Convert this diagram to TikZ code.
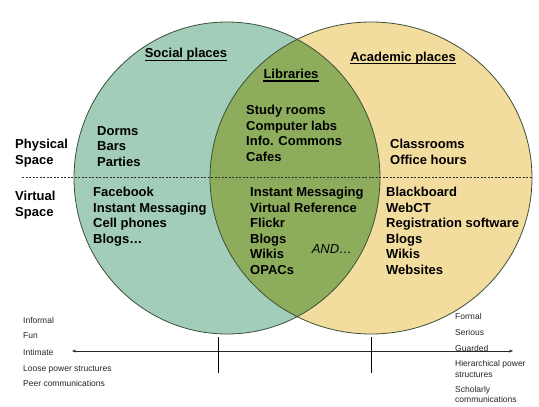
\documentclass[tikz,border=0pt]{standalone}
\usepackage{fontspec}
\setmainfont{Liberation Sans}
\usetikzlibrary{arrows.meta}
\definecolor{social}{HTML}{A1CDB9}
\definecolor{academic}{HTML}{F3DD9E}
\definecolor{library}{HTML}{8DAD5D}
\definecolor{edgecol}{HTML}{3C4F3A}
\begin{document}
\begin{tikzpicture}[x=1pt,y=-1pt,
  big/.style={font=\bfseries\fontsize{13}{15.5}\selectfont, inner sep=0pt, anchor=north west, align=left},
  head/.style={font=\bfseries\fontsize{13}{15.5}\selectfont, inner sep=0pt, anchor=base},
  uline/.style={line width=1.2pt, black},
  small/.style={font=\fontsize{8.5}{10.5}\selectfont, inner sep=0pt, anchor=base west, text=black!85},
  circ/.style={draw=edgecol, line width=0.8pt}]
\useasboundingbox (0,0) rectangle (539,407);
\fill[white] (0,0) rectangle (539,407);
% circles
\fill[social] (227,178) ellipse [x radius=153pt, y radius=156pt];
\fill[academic] (371,178) ellipse [x radius=161pt, y radius=156pt];
\begin{scope}
  \clip (227,178) ellipse [x radius=153pt, y radius=156pt];
  \fill[library] (371,178) ellipse [x radius=161pt, y radius=156pt];
\end{scope}
\draw[circ] (227,178) ellipse [x radius=153pt, y radius=156pt];
\draw[circ] (371,178) ellipse [x radius=161pt, y radius=156pt];
% dashed separator
\coordinate (dl) at (22,177);
\coordinate (dr) at (532,177);
\draw[black!80, line width=0.6pt, dash pattern=on 2pt off 1.5pt] (dl) -- (dr);
% headers
\node[head] (social) at (186,57.5) {Social places};
\node[head] (academic) at (403,61) {Academic places};
\node[head] (libraries) at (291,78.5) {Libraries};
\draw[uline] ([yshift=-2.6pt]social.base west) -- ([yshift=-2.6pt]social.base east);
\draw[uline] ([yshift=-2.6pt]academic.base west) -- ([yshift=-2.6pt]academic.base east);
\draw[uline] ([yshift=-2.4pt]libraries.base west) -- ([yshift=-2.4pt]libraries.base east);
% lists
\node[big] (phys) at (15,139) {Physical\\Space};
\node[big] (virt) at (15,191) {Virtual\\Space};
\node[big] (dorms) at (97,126) {Dorms\\Bars\\Parties};
\node[big] (fb) at (93,187) {Facebook\\Instant Messaging\\Cell phones\\Blogs\dots};
\node[big] (study) at (246,105) {Study rooms\\Computer labs\\Info. Commons\\Cafes};
\node[big] (class) at (390,139) {Classrooms\\Office hours};
\node[big] (im) at (250,187) {Instant Messaging\\Virtual Reference\\Flickr\\Blogs\\Wikis\\OPACs};
\node[big] (bb) at (386,187) {Blackboard\\WebCT\\Registration software\\Blogs\\Wikis\\Websites};
\node[font=\itshape\fontsize{13}{15.5}\selectfont, inner sep=0pt] (and) at (332,249) {AND\dots};
% axis
\coordinate (axl) at (72,351);
\coordinate (axr) at (513,351);
\draw[black!85, line width=0.6pt, {Stealth[length=4pt,width=3pt]}-{Stealth[length=4pt,width=3pt]}] (axl) -- (axr);
\coordinate (t1a) at (218,337); \coordinate (t1b) at (218,373);
\coordinate (t2a) at (371,337); \coordinate (t2b) at (371,373);
\draw[black, line width=0.6pt] (t1a) -- (t1b);
\draw[black, line width=0.6pt] (t2a) -- (t2b);
% left labels
\node[small] (l1) at (23,323) {Informal};
\node[small] (l2) at (23,338) {Fun};
\node[small] (l3) at (23,355) {Intimate};
\node[small] (l4) at (23,371) {Loose power structures};
\node[small] (l5) at (23,386) {Peer communications};
% right labels
\node[small] (r1) at (455,319) {Formal};
\node[small] (r2) at (455,335) {Serious};
\node[small] (r3) at (455,351) {Guarded};
\node[small] (r4) at (455,366) {Hierarchical power};
\node[small] (r4b) at (455,377) {structures};
\node[small] (r5) at (455,392) {Scholarly};
\node[small] (r5b) at (455,402) {communications};
\end{tikzpicture}
\end{document}
